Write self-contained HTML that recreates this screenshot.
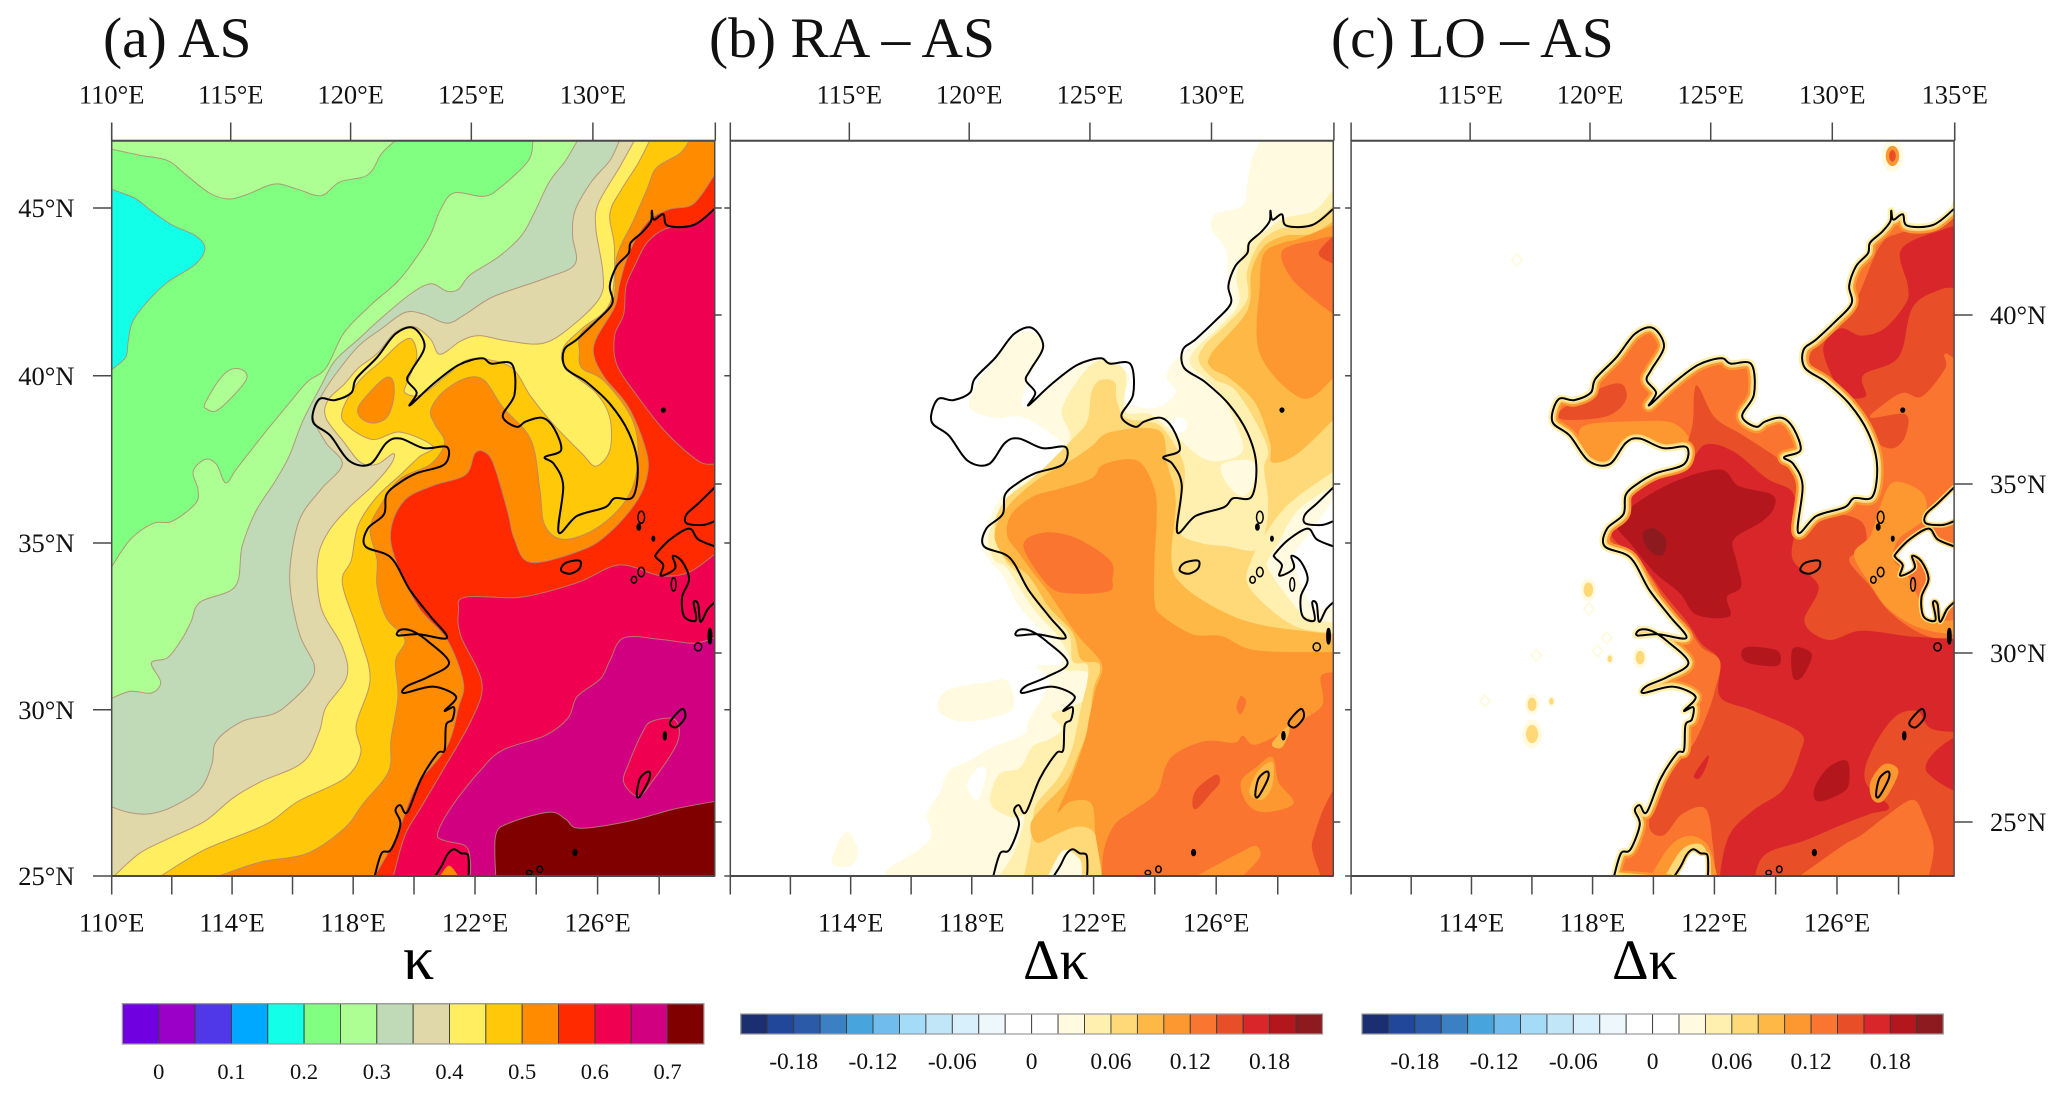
<!DOCTYPE html>
<html lang="en">
<head>
<meta charset="utf-8">
<title>Hygroscopicity maps: AS, RA – AS, LO – AS</title>
<style>
html,body{margin:0;padding:0;background:#fff;}
svg{display:block;}
text{font-family:"Liberation Serif","DejaVu Serif",serif;fill:#111;}
.title{font-size:57.5px;}
.tick{font-size:26.5px;}
.cb{font-size:22.5px;}
.cbd{font-size:23.5px;}
.axis{font-size:57px;fill:#000;}
.axis-k{font-size:62px;fill:#000;}
</style>
</head>
<body>
<svg id="chart" xmlns="http://www.w3.org/2000/svg" width="2067" height="1098" viewBox="0 0 2067 1098">
  <rect width="2067" height="1098" fill="#fff"/>
  <text class="title" x="103" y="57">(a) AS</text>
  <text class="title" x="709" y="57">(b) RA – AS</text>
  <text class="title" x="1331" y="57">(c) LO – AS</text>
  <text class="axis-k" x="403" y="979">κ</text>
  <text class="axis" x="1023" y="979">Δκ</text>
  <text class="axis" x="1612" y="979">Δκ</text>
</svg>
<script>
// ---------- tick and colour-bar values ----------
const topLonA = [110,115,120,125,130];
const topLonB = [115,120,125,130];
const topLonC = [115,120,125,130,135];
const bottomTickLon = [110,112,114,116,118,120,122,124,126,128];
const bottomLabelLonA = [110,114,118,122,126];
const bottomLabelLonBC = [114,118,122,126];
const leftLat = [45,40,35,30,25];
const rightLat = [40,35,30,25];
const kappaColors = ['#7000e0','#9a00c8','#5038e8','#00a8ff','#12ffe8','#80ff80','#adff94','#c0dab8','#e0d8a8','#ffee60','#ffc808','#ff8c00','#ff2a00','#f00050','#d00080','#800000'];
const kappaLabels = [0,0.1,0.2,0.3,0.4,0.5,0.6,0.7];
const diffColors = ['#1a2e70','#20479a','#2a5aa8','#3c80c4','#48a4dc','#70bcec','#a4dcf8','#c0e6f8','#d8f0fb','#eef8fc','#ffffff','#ffffff','#fffae0','#fff0b0','#ffd878','#fdb845','#fd9830','#f97530','#e84e28','#d8262a','#b4161e','#8c1a1e'];
const diffLabels = [-0.18,-0.12,-0.06,0,0.06,0.12,0.18];

// ---------- polygon closures (lon, lat beyond the frame) ----------
const closeLeftBottom = [109,24,131,24,131,48];
const closeBottomRight = [131,24,131,48];

// ---------- coastline (lon, lat) ----------
const coastMain = [129.92,44.97,129.23,44.49,128.38,44.47,128.23,44.81,127.92,44.65,127.85,44.92,127.82,44.6,127.54,44.28,127.15,43.96,127.08,43.64,126.69,43.26,126.46,42.67,126.54,42.14,126,41.6,125.38,41.07,124.95,40.75,125,40.21,125.69,39.79,126.46,39.14,127.08,38.29,127.38,37.33,127.23,36.36,126.62,36.31,126.31,36.04,125.38,35.78,124.77,35.29,124.92,36.68,124.62,37.33,124.31,37.54,124.85,37.75,124.62,38.4,124.23,38.72,123.69,38.61,123.38,38.45,122.92,38.77,123.31,39.41,123.23,40.32,122.54,40.34,122.23,40.5,121.46,40.3,120.62,39.73,119.85,39.09,120.08,39.47,119.77,39.84,119.92,40.16,120.34,40.86,119.97,41.41,119.38,41.23,118.77,40.53,118.08,39.89,117.92,39.47,117.38,39.25,116.85,39.27,116.65,38.61,117.23,38.18,117.85,37.43,118.54,37.33,119.08,37.97,119.54,38.1,120.31,37.81,121.08,37.84,121,37.33,120.08,37.06,119.54,36.79,119.08,36.42,119,35.83,118.46,35.4,118.38,34.87,119.23,34.53,119.85,33.57,120.54,32.77,121.08,32.13,120.15,32.24,119.46,32.2,119.54,32.37,119.92,32.34,120.46,32.02,121.15,31.38,120.46,30.96,119.77,30.69,119.66,30.48,120.62,30.67,121.38,30.37,121,29.95,121.31,30.05,121.26,29.68,121.05,29.52,121,28.77,120.77,28.67,120.23,27.92,119.77,26.91,119.54,27.12,119.38,26.96,119.54,26.54,119.23,25.79,118.92,25.68,118.69,25];
const coastHonshu = [129.92,36.63,129.38,36.15,129,35.83,129,35.56,129.54,35.51,129.92,35.62];
const coastKyushu = [129.92,34.87,129.38,35.08,129.08,35.4,128.46,35.08,128,34.65,128,34.53,128.23,34.31,128.15,33.99,128.62,34.21,128.54,34.58,128.85,34.42,129.08,33.89,128.85,33.35,128.92,32.77,129.31,32.66,129.23,33.19,129.38,33.14,129.46,32.61,129.69,32.98,129.92,33.19];
const coastJeju = [124.85,34.15,125,34.37,125.46,34.44,125.46,34.21,125.15,34.05];
const coastAmami = [128.45,29.6,128.85,30,128.95,29.75,128.65,29.45];
const coastOkinawa = [127.74,28.13,127.77,27.92,127.46,27.39,127.35,27.44,127.46,27.92];
const coastTaiwan = [120.69,25,120.9,25.3,121.1,25.65,121.31,25.8,121.55,25.68,121.77,25.63,121.8,25.2,121.77,24.8];
const islandLon = [128.23,127.5,127.42,127.9,127.5,127.26,128.57,129.38,129.77,128.28,125.31,123.8,124.15];
const islandLat = [38.95,35.74,35.45,35.1,34.1,33.87,33.73,31.86,32.18,29.2,25.7,25.1,25.2];
const islandRx = [.06,.11,.055,.04,.11,.09,.08,.12,.055,.05,.06,.09,.09];
const islandRy = [.06,.18,.09,.07,.14,.1,.2,.12,.23,.12,.09,.07,.1];

// ---------- panel (a) contour bands ----------
const kCyan = [110,45.56,110.77,45.29,111.31,44.92,112,44.49,112.77,44.17,113.08,43.8,112.77,43.32,111.85,42.78,111.23,42.25,110.69,41.6,110.54,40.96,110.46,40.53,110,40.16];
const kTopLeft = [110,46.76,110.92,46.58,111.85,46.42,112.46,45.99,113.23,45.45,113.85,45.27,114.46,45.4,115.38,45.72,116.15,45.56,116.92,45.37,117.54,45.78,118.46,45.99,118.92,46.63,119.38,47.02];
const kLens = [113.08,39.14,113.15,38.98,113.46,38.93,114,39.36,114.46,39.89,114.31,40.16,113.92,40.16,113.54,39.84];
const kLevel25 = [123.92,47,123.77,46.42,122.92,45.67,122.31,45.35,121.31,45.45,120.85,44.92,120.46,44.07,119.54,42.89,118.62,42.14,117.69,41.28,117.08,40.21,116.46,39.79,115.85,39.14,115.08,38.29,114.15,37.22,113.77,36.77,113.46,37.33,113.08,37.47,112.69,37.11,112.85,36.58,112.77,36.15,112,35.62,111.38,35.56,110.62,35.08,110,34.26];
const kLevel30 = [125.38,47,125,46.42,124.46,45.78,124,44.92,123.54,44.17,122.77,43.53,121.85,43,121.46,42.57,121.08,42.51,120.54,42.73,119.85,42.41,118.92,41.71,118.15,41.07,117.38,40.43,116.92,39.68,116.31,38.61,115.85,37.54,115.38,36.79,114.77,35.93,114.31,34.87,114.08,33.67,112.92,33.2,112.62,32.61,112.31,32.08,111.85,31.54,111.31,31.38,111.62,30.8,111.31,30.48,110.62,30.53,110,30.32];
const kLevel35 = [126.77,47,126.46,46.42,125.85,45.78,125.31,44.92,125.23,44.17,125.31,43.32,124.31,42.89,122.62,42.35,121.69,41.82,121.08,41.55,120.31,41.82,119.69,41.87,118.92,41.39,118.15,40.86,117.38,40,116.92,39.36,116.65,38.77,117.08,37.97,117.62,37.33,116.92,36.58,116.23,35.72,115.92,34.46,115.92,33.46,116.23,32.18,116.69,31.33,116.54,30.8,115.85,30.16,115.31,29.84,114.31,29.63,113.46,29.04,113.31,28.35,112.92,27.6,112,27.07,111.23,26.86,110.54,26.91,110,27.07];
const kLevel40 = [127.26,47,126.77,46.2,126.08,45.13,126,44.38,126.23,43.1,126.15,42.35,125.38,41.6,124.31,40.96,123.08,41.02,122.15,41.18,121.54,41.02,120.85,40.62,120.54,41.07,120,41.44,119.38,41.28,118.77,40.64,118.15,40.21,117.69,39.73,117.15,39.25,117.08,38.72,117.69,37.97,118.23,37.38,118.77,37.33,119.31,37.65,119.23,37.33,118.62,36.68,117.85,36.04,117.15,35.29,116.8,34.42,116.92,33.04,117.62,31.86,117.77,30.96,117.08,30.05,116.85,29.3,116.31,28.4,114.92,27.82,114,27.33,113.08,26.64,111.85,26.11,110.92,25.68,110.08,25];
const kLevel45 = [127.77,47,127.38,46.31,126.85,45.56,126.46,44.81,126.62,43.74,126.46,42.14,125.54,41.39,124.92,40.8,125,40.21,126,39.47,126.46,38.72,126.46,37.75,126,37.27,125.54,37.65,124.62,38.5,123.85,39.36,123.23,40.21,122.31,40.48,121.69,40.43,121.08,40,120.23,39.41,119.69,39.47,119.77,39.79,120.08,40.53,119.92,41.07,119.54,40.96,118.92,40.43,118.15,39.79,117.62,38.93,117.77,38.5,118.62,38.07,119.54,38.29,120.62,37.86,120.15,37.54,119.54,37.01,118.77,36.36,118.15,35.51,117.92,34.46,117.62,33.78,118.15,32.29,118.54,30.9,118.08,29.52,118.23,28.67,117.69,27.92,116.15,27.23,115.08,26.54,113.08,25.79,111.62,25];
const kLevel50 = [129.08,47,128.77,46.63,128,46.2,127.69,45.56,127.23,44.6,126.69,43.53,126.54,42.14,125.54,41.28,125.46,40.7,125.54,40.21,126.31,39.79,127.23,38.61,127.38,37.33,127,36.26,126,35.4,124.92,35.08,124.31,35.51,124.15,36.58,123.85,38.07,122.92,39.04,122.31,39.84,121.69,39.9,120.92,39.47,120.54,38.93,120.69,38.5,121,37.97,120.54,37.33,119.54,36.9,118.92,36.15,118.54,35.4,118.77,34.46,118.77,33.67,119.08,32.72,119.69,32.08,119.38,31.44,119.46,30.37,119.23,29.09,119.15,28.13,118.31,27.17,117.69,26.43,116.46,25.68,114.92,25.42,113.54,25];
const kOrangePatch = [118.62,39.57,118.15,39.04,118.23,38.72,118.62,38.56,119.08,38.72,119.31,39.25,119.31,39.79,119.08,39.93];
const kLevel55 = [129.92,45.99,129.23,45.13,128.46,44.97,127.85,44.7,127.38,44.17,127,43.42,126.77,42.67,126.62,42.03,126,41.07,125.95,40.53,126.31,39.9,127.08,39.04,127.62,37.86,127.72,37.11,127.38,36.26,126.46,35.29,125.54,34.76,123.85,34.39,123.31,35.08,123.08,35.93,122.62,37.33,122.31,37.7,122,37.65,121.69,37.01,120.62,36.69,119.69,36.26,119.23,35.4,119.38,34.46,120.15,33.04,121.08,32.08,121.62,30.8,121.46,30.05,121.08,28.88,120.15,27.81,119.77,27.07,119.38,26.11,118.69,25];
const kLevel60North = [129.92,44.97,129.23,44.49,128.31,44.38,127.69,43.96,127.31,43.32,127,42.67,126.92,41.82,126.62,41.18,126.69,40.32,127.38,39.36,128.31,38.29,129.38,37.43,129.92,37.33];
const kLevel60South = [129.92,34.63,129.08,34.1,128.15,33.99,126.77,34.31,125.38,33.78,123.54,33.35,121.69,33.35,121.46,32.93,121.54,32.18,122.23,30.8,121.92,29.73,120.92,28.13,120.23,27.07,119.69,26.22,119.31,25];
const kLevel65 = [129.92,32.13,129.23,31.97,128.15,32.08,126.92,32.13,126.46,31.44,126.15,30.9,125.38,30.37,125.08,29.73,124.31,29.2,122.92,28.77,122.15,28.13,121.23,27.07,120.77,26.27,121,26.06,121.69,25.9,121.85,25.47,121.85,25];
const kCrimsonIsland = [127.85,29.63,128.62,29.68,128.69,28.99,127.85,27.81,127.38,27.39,126.92,27.81,127.08,28.35,127.54,29.3];
const kLevel70 = [122.69,25,122.69,26.22,123.15,26.59,124.46,26.91,125,26.7,125.46,26.43,127.08,26.64,128.62,27.01,129.92,27.23];
const kTaiwanSpot = [120.85,25,121.15,25.31,121.46,25];

// ---------- panel (b) contour bands ----------
const bLevel1 = [127.5,47,127.22,46.42,127.08,45.67,126.94,45.08,126.04,44.81,125.9,44.38,126.38,43.74,126.45,42.89,126.59,42.14,126.1,41.6,125.48,41.07,124.99,40.7,124.58,40.32,124.44,39.89,124.72,39.47,124.16,39.04,123.46,39.04,122.98,39.25,123.18,39.89,122.91,40.21,122.21,40.48,121.38,40.21,120.54,39.68,119.85,39.09,119.64,39.14,119.85,39.89,120.33,40.86,119.99,41.28,119.43,41.18,118.73,40.43,118.18,39.79,117.9,39.04,118.73,38.72,119.71,38.72,120.96,37.97,121.1,37.43,119.85,36.9,119.01,36.42,118.32,35.08,118.6,34.42,119.01,33.99,119.57,33.04,120.54,32.08,120.96,31.38,120.13,31.28,120.54,30.8,119.85,29.63,119.71,29.25,118.6,28.83,117.9,28.45,117.2,28.13,116.93,27.49,116.51,26.86,116.65,26.22,116.23,25.79,115.26,25.26,115.12,25];
const bHoleWest = [118.18,28.24,118.46,28.13,118.18,27.28,117.83,27.71];
const bPatchInland = [116.86,30.16,117.2,30.58,118.46,30.8,119.15,30.85,119.36,30.05,118.6,29.73,117.62,29.63,117,29.84];
const bPatchSouth = [113.87,26.32,114.21,25.79,114,25.31,113.38,25.36,113.52,25.9];
const bLevel2 = [129.93,45.56,129.3,44.92,128.33,44.7,127.64,44.28,127.08,43.85,126.73,43,126.8,42.14,126.1,41.39,125.34,40.75,125.2,40.32,125.69,39.89,126.25,39.36,126.66,38.61,126.94,37.75,126.25,37.43,125.55,37.54,124.72,38.18,123.88,38.82,123.05,38.93,123.05,40.11,122.21,40.43,121.52,39.89,120.96,38.93,121.24,38.18,120.96,37.54,119.85,36.85,119.15,36.26,118.53,35.19,118.73,34.46,119.15,34.21,119.99,33.04,120.82,32.18,121.24,31.44,121.07,31.17,121.86,31.06,121.79,30.37,121.24,30.05,120.61,29.84,120.96,29.41,120.54,29.09,119.99,28.88,119.57,28.24,118.87,28.03,118.6,27.17,119.29,26.75,119.71,26.75,119.36,25.68,118.87,25];
const bLevel3 = [129.93,45.08,129.17,44.49,128.19,44.38,127.5,43.96,127.08,43.1,127.08,42.25,126.38,41.5,125.69,40.91,125.48,40.43,125.97,39.89,126.66,39.57,127.36,38.61,127.77,37.75,127.64,37.22,127.77,36.26,127.7,35.4,127.36,34.76,126.38,34.87,125.55,34.97,124.85,35.29,124.92,36.26,124.99,37.33,124.3,38.4,123.74,38.61,123.05,38.72,122.77,39.25,122.7,39.79,122.21,39.84,121.93,39.47,121.79,38.61,121.24,38.02,119.99,36.9,119.08,36.26,118.73,35.4,119.08,34.46,119.57,33.99,120.26,33.04,121.17,32.29,121.31,31.44,121.79,31.33,121.79,30.8,121.59,30.05,121.45,29.41,121.24,28.67,120.82,27.92,120.13,27.17,119.99,26.64,119.92,26,119.71,25];
const bLevel4North = [129.93,44.6,129.17,44.22,128.33,44.17,127.64,43.85,127.22,43.1,127.08,41.92,125.9,40.64,125.9,40.21,126.52,39.89,127.36,39.14,127.84,37.97,127.91,37.38,128.75,37.65,129.93,38.66];
const bLevel4South = [129.93,32.24,127.64,32.5,126.25,32.93,124.99,33.67,124.58,34.42,124.72,36.26,124.44,37.33,124.16,38.34,122.56,38.29,121.93,37.86,121.24,37.43,120.13,36.85,119.15,36.04,118.73,35.19,119.15,34.46,119.85,33.99,120.54,33.04,121.31,32.29,121.59,31.49,122.14,31.38,122.21,31.12,122,30.58,121.86,29.52,121.52,28.67,121.1,27.82,120.33,27.07,119.92,26.54,120.13,26,120.82,26.27,121.52,26.48,122.07,26.22,122.28,25];
const bLevel5North = [129.93,44.49,128.75,44.07,128.26,43.96,127.64,43.64,127.5,42.67,127.5,40.64,128.89,39.3,129.93,39.9];
const bLevel5South = [122.35,37.33,123.46,37.43,124.02,36.58,124.09,35.72,124.02,34.46,124.02,33.25,124.23,32.82,125.27,32.24,126.25,32.18,127.36,31.76,129.93,31.7,131,31.7,131,24,122.28,24,122.28,25,122.07,26.22,121.93,27.17,121.24,27.23,120.82,26.91,121.24,27.82,121.72,29.09,121.86,29.73,122.07,30.58,122.28,31.33,121.59,32.08,121.24,32.5,120.54,33.46,119.99,34.1,119.57,34.63,119.15,35.19,119.29,35.83,119.99,36.36,120.82,36.58,121.93,36.9];
const bLevel6North = [129.93,44.17,129.44,44.07,128.26,43.74,128.47,42.99,129.17,42.35,129.93,41.82];
const bLevel6Yellow = [119.78,35.08,120.54,35.29,121.52,35.08,122.56,34.44,122.63,33.89,122.49,33.52,121.24,33.46,120.54,33.67,119.78,34.63];
const bLevel6South = [129.93,31.1,129.51,30.96,129.58,30.16,129.03,29.73,128.47,29.41,127.36,28.93,126.94,29.2,126.66,28.99,125.69,29.04,124.72,28.67,124.37,28.24,124.09,27.49,123.32,26.96,122.7,26.54,122.35,25.79,122.28,25];
const bLevel6Spot = [126.73,30.05,126.87,30.39,127.05,30.21,126.87,29.84];
const bOkinawaOuter = [127.36,28.24,127.91,28.56,128.12,27.81,128.61,27.17,127.64,26.91,127.08,27.17,126.87,27.81];
const bOkinawaInner = [127.43,28.13,127.91,28.4,127.91,27.71,127.57,27.28,127.15,27.49];
const bAmamiStrip = [127.91,28.99,128.4,29.47,128.47,29.31,128.26,28.88,128.05,28.83];
const bMiyakoPatch = [125.41,25,126.8,25.68,127.36,25.9,127.5,25.57,126.94,25];
const bLevel7South = [125.27,27.17,125.41,27.6,126.04,28.03,126.18,27.81,125.9,27.49,125.41,27.01];
const bLevel7Edge = [129.93,27.6,129.58,26.96,129.3,26.22,129.23,25.79,129.51,25];
const bLevel7North = [129.93,44.17,129.44,43.64,129.93,43.32];
const bKyushuPale = [129.93,37.11,128.47,36.15,127.64,35.19,127.22,34.46,127.08,33.78,127.78,33.04,128.75,32.45,129.93,32.27];
const bKyushuCream = [129.93,36.68,128.75,35.94,128.05,34.87,127.77,34.46,127.77,34.21,128.33,33.46,129.03,32.77,129.93,32.59];
const bKyushuWhite = [129.93,36.26,128.89,34.97,128.47,34.46,128.61,34.42,128.89,33.67,129.3,33.04,129.86,33.04];
const bKoreaPale = [126.25,37.33,127.22,37.43,127.36,36.9,126.94,36.36,126.38,36.79];
const bTaiwanOuter = [119.98,25,120.5,25.9,121.05,26.1,121.6,25.6,121.96,25];
const bTaiwanInner = [120.5,25,121,25.77,121.55,25.5,121.62,25];
const bYellowSpotLon = [124.83];
const bYellowSpotLat = [38.5];

// ---------- panel (c) contour bands ----------
const cBohaiPatch = [116.91,38.93,118.15,39.57,118.93,39.73,119.08,39.25,118.46,38.77,117.07,38.66];
const cBohaiPale = [117.76,38.5,119.24,38.61,120.64,38.56,121.18,37.97,120.17,37.97,119.24,38.24,118.62,37.65,118.46,37.33,117.84,37.43,117.53,38.07];
const cLevel7 = [121.49,39.63,122.03,38.72,122.97,38.18,124.21,37.43,124.83,36.79,124.83,35.4,125.76,35.83,126.85,35.62,127,34.87,126.46,34.46,127.16,33.67,127.78,32.93,128.87,32.24,130.3,31.97,131,31.9,131,24,122.03,24,122.03,25,121.96,25.9,121.72,27.01,120.95,26.86,120.33,26.22,119.86,26.43,120.02,27.28,120.56,28.13,121.26,28.88,121.72,29.73,122.03,30.58,122.19,31.44,121.57,31.86,121.1,32.5,120.48,33.04,119.86,33.99,118.93,34.74,118.54,35.19,118.77,35.93,119.24,36.79,119.7,37.11,120.79,37.54,121.26,38.4,121.34,39.47];
const cLevel7North = [126.62,42.14,127.47,43.85,128.25,44.28,130.5,44.81,130.5,40.64,129.64,40.64,129.64,40.21,128.87,39.36,128.25,39.47,127.62,39.14,127.16,38.72,128.32,38.82,128.32,38.18,127.93,37.81,127.39,37.97,126.93,38.61,126.38,39.25,125.76,39.89,125.14,40.43,125.6,41.18];
const cLevel8 = [121.72,37.92,122.65,37.7,123.74,36.9,124.6,36.47,124.67,35.4,124.6,34.46,125.45,33.67,124.98,32.61,125.76,32.07,126.85,32.34,128.4,32.18,129.18,32.13,130.4,31.97,131,31,131,29.3,130.4,29.3,129.18,29.41,128.71,29.94,127.93,29.73,127.16,28.67,127,27.81,127.78,27.07,127.16,26.86,126.23,26.54,124.98,26.06,123.74,25.68,123.35,25,123.3,24,122.2,24,122.19,25,122.5,26.22,123.28,26.96,124.29,27.6,124.83,28.67,124.83,29.3,123.28,29.95,122.19,30.37,122.19,31.44,121.57,31.97,121.1,32.61,120.33,33.46,119.55,34.42,118.62,35.19,118.93,36.04,119.86,36.9,121.1,37.33];
const cLevel8East = [130.4,29.14,129.49,28.88,129.02,28.13,130.4,27.5];
const cLevel8North = [130.4,44.38,129.33,44.28,128.17,43.74,128.4,42.67,128.33,42.14,127.62,41.39,126.85,41.18,126.15,41.39,125.6,40.75,126.23,39.47,127,39.36,126.93,40,128.09,40.53,128.56,42.03,129.49,42.57,130.4,42.78];
const cLevel8Sliver = [121.34,28.03,121.8,28.61,121.72,28.24,121.5,27.92];
const cLevel9 = [118.77,35.51,119.24,36.04,120.64,36.79,122.19,37.17,122.81,36.68,123.9,36.42,123.98,36.04,123.59,35.62,122.65,35.08,122.73,34.46,122.89,33.67,122.42,33.35,122.5,32.77,121.41,32.82,120.87,33.46,120.02,34.1,119.24,34.95];
const cLevel9A = [122.89,31.65,123.12,31.86,124.05,31.76,124.2,31.44,123.98,31.28,123.12,31.38];
const cLevel9B = [124.6,31.81,125.22,31.65,124.91,30.96,124.6,30.96];
const cLevel9C = [125.3,27.6,125.76,28.24,126.38,28.45,126.46,27.81,126.23,27.49,125.45,27.23];
const cLevel10 = [119.67,35.3,120.02,35.4,120.4,35.08,120.33,34.65,120.02,34.63,119.7,34.95];
const cKyushuBand = [127.47,36.04,127.93,36.79,128.87,36.47,128.95,35.72,128.09,35.08,127.93,34.46,128.32,34.1,128.87,33.14,129.33,32.66,130.3,32.66,130.3,32.24,128.87,32.4,127.78,32.98,127.16,33.73,126.62,34.63,127.16,35.19];
const cLevel6South = [124.83,25,126.23,25.9,126.85,26.22,127.62,26.75,128.55,27.28,128.94,26.75,129.25,25.9,129.1,25];
const cOkinawaPale = [127.16,27.81,127.62,28.35,128.09,28.13,127.62,27.28,127.24,27.28];
const cTaiwanOuter = [119.9,25,120.55,25.9,121.2,26.2,121.8,25.9,122.1,25];
const cTaiwanInner = [120.38,25,120.95,25.8,121.55,25.95,121.85,25.5,121.9,25];
const cSpotLon = [127.89,115.98,115.98,117.84,119.55,116.62,118.55];
const cSpotLat = [46.56,29.25,30.14,33.57,31.54,30.23,31.5];
const cSpotSize = [.42,.38,.28,.3,.28,.14,.14];
const cDiamondLon = [115.48,114.42,116.12,117.86,118.45,118.15];
const cDiamondLat = [43.44,30.24,31.6,33.0,32.13,31.74];

// ---------- drawing helpers ----------
const svg = document.getElementById('chart');
const NS = 'http://www.w3.org/2000/svg';
const panelA = {left:111.7, key:'a'};
const panelB = {left:730.3, key:'b'};
const panelC = {left:1351.1, key:'c'};
const frameW = 603, frameTop = 140.7, frameBottom = 876;

function mapX(p, lon){ return p.left + (lon - 110) * 30.26; }
function mapY(lat){ return 876 - (lat - 25) * 33.4; }
function topAxisX(p, lon){ const d = lon - 110; return p.left + d * 23.72 + 0.017 * d * d; }
function bottomAxisX(p, lon){ const d = lon - 110; return p.left + d * 30 + 0.023 * d * d; }
function leftAxisY(lat){ const d = lat - 25; return 876 - 33.2 * d - 0.01 * d * d; }
function rightAxisY(lat){ return 822 - (lat - 25) * 33.8; }
function kappaBarX(v){ return 122.4 + (581.5 / 16) * (1 + v / 0.05); }
function diffBarX(left, width, v){ return left + (width / 22) * (11 + v / 0.02); }

function add(tag, name, attrs, parent){
  const el = document.createElementNS(NS, tag);
  
  
  for (const k in attrs) el.setAttribute(k, attrs[k]);
  (parent || svg).appendChild(el);
  return el;
}
function pointsOf(p, arr){
  const out = [];
  for (let i = 0; i < arr.length; i += 2) out.push([mapX(p, arr[i]), mapY(arr[i + 1])]);
  return out;
}
function f(n){ return n.toFixed(1); }
function smoothPath(pts, closed){
  const n = pts.length;
  const at = i => closed ? pts[(i + n) % n] : pts[Math.max(0, Math.min(n - 1, i))];
  let d = 'M' + f(pts[0][0]) + ' ' + f(pts[0][1]);
  const last = closed ? n : n - 1;
  for (let i = 0; i < last; i++) {
    const a = at(i - 1), b = at(i), c = at(i + 1), e = at(i + 2);
    d += 'C' + f(b[0] + (c[0] - a[0]) / 6) + ' ' + f(b[1] + (c[1] - a[1]) / 6) + ' ' + f(c[0] - (e[0] - b[0]) / 6) + ' ' + f(c[1] - (e[1] - b[1]) / 6) + ' ' + f(c[0]) + ' ' + f(c[1]);
  }
  return d;
}
function closedWith(p, line, closure){
  return smoothPath(pointsOf(p, line), false) + pointsOf(p, closure).map(q => 'L' + f(q[0]) + ' ' + f(q[1])).join('') + 'Z';
}
function band(p, group, name, color, line, closure, outlined){
  const d = closure ? closedWith(p, line, closure) : smoothPath(pointsOf(p, line), true) + 'Z';
  const attrs = {d: d, fill: color};
  if (outlined) { attrs.stroke = '#b08a72'; attrs['stroke-width'] = 1; attrs['stroke-opacity'] = 0.85; }
  return add('path', name, attrs, group);
}
function panelGroup(p){
  const defs = add('clipPath', 'panel-' + p.key + '-clip', {id: 'clip-' + p.key});
  add('rect', 'panel-' + p.key + '-clip-rect', {x: p.left, y: frameTop, width: frameW + 0.4, height: frameBottom - frameTop}, defs);
  return add('g', 'panel-' + p.key + '-map', {'clip-path': 'url(#clip-' + p.key + ')'});
}
function drawCoast(p, g){
  const style = {fill: 'none', stroke: '#000', 'stroke-width': 2, 'stroke-linejoin': 'round'};
  add('path', 'coastline-mainland', Object.assign({d: smoothPath(pointsOf(p, coastMain), false)}, style), g);
  add('path', 'coastline-honshu', Object.assign({d: smoothPath(pointsOf(p, coastHonshu), false)}, style), g);
  add('path', 'coastline-kyushu', Object.assign({d: smoothPath(pointsOf(p, coastKyushu), false)}, style), g);
  add('path', 'coastline-jeju', Object.assign({d: smoothPath(pointsOf(p, coastJeju), true) + 'Z'}, style), g);
  add('path', 'coastline-amami', Object.assign({d: smoothPath(pointsOf(p, coastAmami), true) + 'Z'}, style), g);
  add('path', 'coastline-okinawa', Object.assign({d: smoothPath(pointsOf(p, coastOkinawa), true) + 'Z'}, style), g);
  add('path', 'coastline-taiwan', Object.assign({d: smoothPath(pointsOf(p, coastTaiwan), false)}, style), g);
  for (let i = 0; i < islandLon.length; i++) {
    add('ellipse', 'island-' + i, {cx: mapX(p, islandLon[i]), cy: mapY(islandLat[i]), rx: islandRx[i] * 30.26, ry: islandRy[i] * 33.4, fill: islandRx[i] < 0.07 ? '#000' : 'none', stroke: '#000', 'stroke-width': 1.5}, g);
  }
}
function drawAxes(p, topLons, bottomLabels, showLeft, showRight){
  const c = '#4a4a4a';
  add('rect', 'panel-' + p.key + '-frame', {x: p.left, y: frameTop, width: frameW, height: frameBottom - frameTop, fill: 'none', stroke: c, 'stroke-width': 1.5});
  add('line', 'panel-' + p.key + '-top-edge', {x1: p.left, x2: p.left + frameW, y1: frameTop, y2: frameTop, stroke: c, 'stroke-width': 2});
  add('line', 'panel-' + p.key + '-bottom-edge', {x1: p.left, x2: p.left + frameW, y1: frameBottom, y2: frameBottom, stroke: c, 'stroke-width': 2});
  [110, 135].forEach(lon => {
    add('line', 'top-corner-tick', {x1: topAxisX(p, lon), x2: topAxisX(p, lon), y1: 122.5, y2: frameTop, stroke: c, 'stroke-width': 1.5});
  });
  topLons.forEach(lon => {
    const x = topAxisX(p, lon);
    add('line', 'top-tick-' + lon, {x1: x, x2: x, y1: 122.5, y2: frameTop, stroke: c, 'stroke-width': 1.5});
    const t = add('text', 'top-tick-label-' + lon, {x: x, y: 103.5, 'text-anchor': 'middle', class: 'tick'});
    t.textContent = lon + '°E';
  });
  bottomTickLon.forEach(lon => {
    const x = bottomAxisX(p, lon);
    add('line', 'bottom-tick-' + lon, {x1: x, x2: x, y1: frameBottom, y2: 894.5, stroke: c, 'stroke-width': 1.5});
  });
  bottomLabels.forEach(lon => {
    const t = add('text', 'bottom-tick-label-' + lon, {x: bottomAxisX(p, lon), y: 931.5, 'text-anchor': 'middle', class: 'tick'});
    t.textContent = lon + '°E';
  });
  leftLat.forEach(lat => {
    const y = leftAxisY(lat);
    add('line', 'left-tick-' + lat, {x1: p.left - (showLeft ? 18.7 : 6), x2: p.left, y1: y, y2: y, stroke: c, 'stroke-width': 1.5});
    if (showLeft) {
      const t = add('text', 'left-tick-label-' + lat, {x: 74.5, y: y + 9, 'text-anchor': 'end', class: 'tick'});
      t.textContent = lat + '°N';
    }
  });
  rightLat.concat(showRight ? [] : [45]).forEach(lat => {
    const y = lat === 45 ? leftAxisY(45) : rightAxisY(lat);
    add('line', 'right-tick-' + lat, {x1: p.left + frameW, x2: p.left + frameW + (showRight ? 18.5 : 7), y1: y, y2: y, stroke: c, 'stroke-width': 1.5});
    if (showRight && lat !== 45) {
      const t = add('text', 'right-tick-label-' + lat, {x: 1990, y: y + 9, class: 'tick'});
      t.textContent = lat + '°N';
    }
  });
}

// ---------- panel (a) ----------
const ga = panelGroup(panelA);
add('rect', 'kappa-base-band', {x: panelA.left, y: frameTop, width: frameW + 1, height: frameBottom - frameTop, fill: kappaColors[5]}, ga);
band(panelA, ga, 'kappa-band-cyan', kappaColors[4], kCyan, [109,40,109,46], true);
band(panelA, ga, 'kappa-band-top-left', kappaColors[6], kTopLeft, [119.38,48,109,48], true);
band(panelA, ga, 'kappa-band-lens', kappaColors[6], kLens, null, true);
band(panelA, ga, 'kappa-band-0.25', kappaColors[6], kLevel25, closeLeftBottom, true);
band(panelA, ga, 'kappa-band-0.30', kappaColors[7], kLevel30, closeLeftBottom, true);
band(panelA, ga, 'kappa-band-0.35', kappaColors[8], kLevel35, closeLeftBottom, true);
band(panelA, ga, 'kappa-band-0.40', kappaColors[9], kLevel40, closeBottomRight, true);
band(panelA, ga, 'kappa-band-0.45', kappaColors[10], kLevel45, closeBottomRight, true);
band(panelA, ga, 'kappa-band-0.50', kappaColors[11], kLevel50, closeBottomRight, true);
band(panelA, ga, 'kappa-band-orange-patch', kappaColors[11], kOrangePatch, null, true);
band(panelA, ga, 'kappa-band-0.55', kappaColors[12], kLevel55, closeBottomRight, true);
band(panelA, ga, 'kappa-band-0.60-north', kappaColors[13], kLevel60North, [131,37,131,45], true);
band(panelA, ga, 'kappa-band-0.60-south', kappaColors[13], kLevel60South, closeBottomRight, true);
band(panelA, ga, 'kappa-band-0.65', kappaColors[14], kLevel65, closeBottomRight, true);
band(panelA, ga, 'kappa-band-crimson-island', kappaColors[13], kCrimsonIsland, null, true);
band(panelA, ga, 'kappa-band-0.70', kappaColors[15], kLevel70, [131,27.23,131,24,122.69,24], true);
band(panelA, ga, 'kappa-band-taiwan-spot', kappaColors[11], kTaiwanSpot, [121.46,24,120.85,24], false);
drawCoast(panelA, ga);
drawAxes(panelA, topLonA, bottomLabelLonA, true, false);

// ---------- panel (b) ----------
const gb = panelGroup(panelB);
band(panelB, gb, 'diff-band-1', diffColors[12], bLevel1, closeBottomRight, false);
band(panelB, gb, 'diff-hole-west', '#fff', bHoleWest, null, false);
band(panelB, gb, 'diff-patch-inland', diffColors[12], bPatchInland, null, false);
band(panelB, gb, 'diff-patch-south', diffColors[12], bPatchSouth, null, false);
band(panelB, gb, 'diff-band-2', diffColors[13], bLevel2, closeBottomRight, false);
band(panelB, gb, 'diff-band-3', diffColors[14], bLevel3, closeBottomRight, false);
band(panelB, gb, 'diff-band-4-north', diffColors[15], bLevel4North, [131,38.6,131,44.6], false);
band(panelB, gb, 'diff-band-4-south', diffColors[15], bLevel4South, [131,24,131,32.24], false);
band(panelB, gb, 'diff-band-5-north', diffColors[16], bLevel5North, [131,39.9,131,44.5], false);
band(panelB, gb, 'diff-band-5-south', diffColors[16], bLevel5South, null, false);
band(panelB, gb, 'diff-band-6-north', diffColors[17], bLevel6North, [131,41.8,131,44.2], false);
band(panelB, gb, 'diff-band-6-yellow-sea', diffColors[17], bLevel6Yellow, null, false);
band(panelB, gb, 'diff-band-6-south', diffColors[17], bLevel6South, [122.28,24,131,24,131,31.1], false);
band(panelB, gb, 'diff-band-6-spot', diffColors[17], bLevel6Spot, null, false);
band(panelB, gb, 'diff-okinawa-outer', diffColors[16], bOkinawaOuter, null, false);
band(panelB, gb, 'diff-okinawa-inner', diffColors[15], bOkinawaInner, null, false);
band(panelB, gb, 'diff-amami-strip', diffColors[15], bAmamiStrip, null, false);
band(panelB, gb, 'diff-miyako-patch', diffColors[16], bMiyakoPatch, [126.94,24,125.41,24], false);
band(panelB, gb, 'diff-band-7-south', diffColors[18], bLevel7South, null, false);
band(panelB, gb, 'diff-band-7-edge', diffColors[18], bLevel7Edge, [129.51,24,131,24,131,27.6], false);
band(panelB, gb, 'diff-band-7-north', diffColors[18], bLevel7North, [131,43.3,131,44.2], false);
band(panelB, gb, 'diff-kyushu-pale', diffColors[13], bKyushuPale, [131,32.27,131,37.11], false);
band(panelB, gb, 'diff-kyushu-cream', diffColors[12], bKyushuCream, [131,32.59,131,36.68], false);
band(panelB, gb, 'diff-kyushu-white', '#fff', bKyushuWhite, [131,33.04,131,36.26], false);
band(panelB, gb, 'diff-korea-pale', diffColors[12], bKoreaPale, null, false);
band(panelB, gb, 'diff-taiwan-outer', diffColors[14], bTaiwanOuter, [122,24,120,24], false);
band(panelB, gb, 'diff-taiwan-inner', diffColors[12], bTaiwanInner, [121.6,24,120.5,24], false);
add('circle', 'diff-yellow-sea-spot', {cx: mapX(panelB, bYellowSpotLon[0]), cy: mapY(bYellowSpotLat[0]), r: 8, fill: '#fff'}, gb);
drawCoast(panelB, gb);
drawAxes(panelB, topLonB, bottomLabelLonBC, false, false);

// ---------- panel (c) ----------
const gc = panelGroup(panelC);
const seaD = closedWith(panelC, coastMain, closeBottomRight);
const seaClip = add('clipPath', 'panel-c-sea-clip', {id: 'clip-sea'});
add('path', 'panel-c-sea-clip-path', {d: seaD}, seaClip);
add('path', 'sea-outer-halo', {d: seaD, fill: 'none', stroke: diffColors[13], 'stroke-width': 7}, gc);
cDiamondLon.forEach((lon, i) => {
  const cx = mapX(panelC, lon), cy = mapY(cDiamondLat[i]);
  add('path', 'land-diamond-' + i, {d: 'M' + cx + ' ' + (cy - 6) + 'L' + (cx + 5) + ' ' + cy + 'L' + cx + ' ' + (cy + 6) + 'L' + (cx - 5) + ' ' + cy + 'Z', fill: '#fff', stroke: diffColors[12], 'stroke-width': 2}, gc);
});
cSpotLon.forEach((lon, i) => {
  const cx = mapX(panelC, lon), cy = mapY(cSpotLat[i]), s = cSpotSize[i];
  add('ellipse', 'land-spot-outer-' + i, {cx: cx, cy: cy, rx: s * 26, ry: s * 38, fill: diffColors[12]}, gc);
  add('ellipse', 'land-spot-mid-' + i, {cx: cx, cy: cy, rx: s * 16, ry: s * 24, fill: i === 0 ? diffColors[16] : diffColors[14]}, gc);
  if (i === 0) {
    add('ellipse', 'land-spot-core', {cx: cx, cy: cy, rx: s * 8, ry: s * 14, fill: diffColors[18]}, gc);
  }
});
const seaG = add('g', 'panel-c-sea', {'clip-path': 'url(#clip-sea)'}, gc);
add('path', 'diff-sea-base', {d: seaD, fill: diffColors[17]}, seaG);
band(panelC, seaG, 'diff-c-bohai-patch', diffColors[18], cBohaiPatch, null, false);
band(panelC, seaG, 'diff-c-bohai-pale', diffColors[16], cBohaiPale, null, false);
band(panelC, seaG, 'diff-c-level-7', diffColors[18], cLevel7, null, false);
band(panelC, seaG, 'diff-c-level-7-north', diffColors[18], cLevel7North, null, false);
band(panelC, seaG, 'diff-c-level-8', diffColors[19], cLevel8, null, false);
band(panelC, seaG, 'diff-c-level-8-east', diffColors[19], cLevel8East, null, false);
band(panelC, seaG, 'diff-c-level-8-north', diffColors[19], cLevel8North, null, false);
band(panelC, seaG, 'diff-c-level-8-sliver', diffColors[19], cLevel8Sliver, null, false);
band(panelC, seaG, 'diff-c-level-9', diffColors[20], cLevel9, null, false);
band(panelC, seaG, 'diff-c-level-9-a', diffColors[20], cLevel9A, null, false);
band(panelC, seaG, 'diff-c-level-9-b', diffColors[20], cLevel9B, null, false);
band(panelC, seaG, 'diff-c-level-9-c', diffColors[20], cLevel9C, null, false);
band(panelC, seaG, 'diff-c-level-10', diffColors[21], cLevel10, null, false);
band(panelC, seaG, 'diff-c-kyushu-band', diffColors[16], cKyushuBand, null, false);
band(panelC, seaG, 'diff-c-level-6-south', diffColors[17], cLevel6South, [129.1,24,124.83,24], false);
band(panelC, seaG, 'diff-c-okinawa-pale', diffColors[16], cOkinawaPale, null, false);
band(panelC, seaG, 'diff-c-taiwan-outer', diffColors[16], cTaiwanOuter, [122.1,24,119.9,24], false);
band(panelC, seaG, 'diff-c-taiwan-inner', diffColors[14], cTaiwanInner, [121.9,24,120.38,24], false);
add('path', 'sea-inner-halo-wide', {d: seaD, fill: 'none', stroke: diffColors[16], 'stroke-width': 13}, seaG);
add('path', 'sea-inner-halo-mid', {d: seaD, fill: 'none', stroke: diffColors[14], 'stroke-width': 8}, seaG);
add('path', 'sea-inner-halo-narrow', {d: seaD, fill: 'none', stroke: diffColors[13], 'stroke-width': 4}, seaG);
const landStyle = {fill: '#fff', stroke: diffColors[14], 'stroke-width': 5};
add('path', 'land-honshu', Object.assign({d: closedWith(panelC, coastHonshu, [131,35.62,131,36.63])}, landStyle), gc);
add('path', 'land-kyushu', Object.assign({d: closedWith(panelC, coastKyushu, [131,33.19,131,34.87])}, landStyle), gc);
add('path', 'land-taiwan', Object.assign({d: smoothPath(pointsOf(panelC, coastTaiwan), false) + 'Z'}, landStyle), gc);
drawCoast(panelC, gc);
drawAxes(panelC, topLonC, bottomLabelLonBC, false, true);

// ---------- colour bars ----------
function drawBar(name, colors, left, width, top, height){
  const w = width / colors.length;
  colors.forEach((c, i) => {
    add('rect', name + '-box-' + i, {x: left + i * w, y: top, width: w, height: height, fill: c, stroke: '#3a3a3a', 'stroke-width': 0.9}, svg);
  });
  add('rect', name + '-outline', {x: left, y: top, width: width, height: height, fill: 'none', stroke: '#9a9a9a', 'stroke-width': 1.2});
}
drawBar('kappa-colorbar', kappaColors, 122.4, 581.5, 1003.7, 40.3);
kappaLabels.forEach(v => {
  const t = add('text', 'kappa-colorbar-label-' + v, {x: kappaBarX(v), y: 1079, 'text-anchor': 'middle', class: 'cb'});
  t.textContent = String(v);
});
drawBar('diff-colorbar-b', diffColors, 740.8, 581.7, 1014, 20);
drawBar('diff-colorbar-c', diffColors, 1362, 581.2, 1014, 20);
diffLabels.forEach(v => {
  const tb = add('text', 'diff-colorbar-b-label-' + v, {x: diffBarX(740.8, 581.7, v), y: 1069, 'text-anchor': 'middle', class: 'cbd'});
  tb.textContent = String(v);
  const tc = add('text', 'diff-colorbar-c-label-' + v, {x: diffBarX(1362, 581.2, v), y: 1069, 'text-anchor': 'middle', class: 'cbd'});
  tc.textContent = String(v);
});
</script>
</body>
</html>
